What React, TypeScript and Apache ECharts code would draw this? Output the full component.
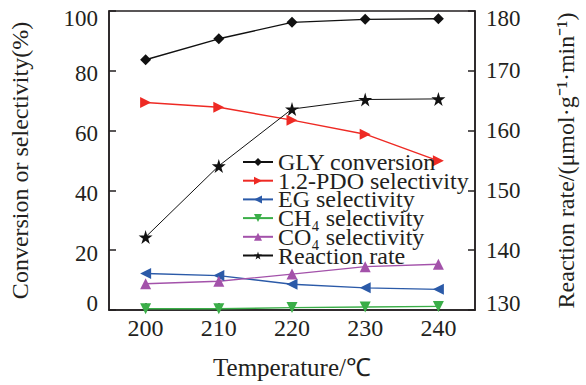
import React, { useEffect, useRef } from "react";
import * as echarts from "echarts";

const temperatures = [200, 210, 220, 230, 240];
const glyConversion = [83.7, 90.7, 96.2, 97.2, 97.4];
const pdoSelectivity = [69.4, 67.8, 63.5, 58.8, 49.9];
const egSelectivity = [12.2, 11.5, 8.6, 7.4, 6.9];
const ch4Selectivity = [0.4, 0.4, 0.8, 1.0, 1.2];
const co4Selectivity = [8.8, 9.6, 12.0, 14.5, 15.3];
const reactionRate = [142.2, 154.1, 163.6, 165.2, 165.3];

const seriesNames = [
  "GLY conversion",
  "1.2-PDO selectivity",
  "EG selectivity",
  "CH₄ selectivity",
  "CO₄ selectivity",
  "Reaction rate",
];

const FONT = "Liberation Serif";
const INK = "#231f20";
const STAR = "path://M50,0 L61,35 L98,35 L68,57 L79,91 L50,70 L21,91 L32,57 L2,35 L39,35 Z";

export default function App() {
  const ref = useRef<HTMLDivElement>(null);
  useEffect(() => {
    const chart = echarts.init(ref.current!, null, { renderer: "svg" });
    const pairs = (vals: number[]) => temperatures.map((t, i) => [t, vals[i]]);
    const mk = (
      name: string,
      vals: number[],
      color: string,
      symbol: string,
      rotate: number,
      size: number,
      yAxisIndex = 0,
      width = 1.4
    ) => ({
      name,
      type: "line",
      yAxisIndex,
      data: pairs(vals),
      symbol,
      symbolRotate: rotate,
      symbolSize: size,
      lineStyle: { color, width },
      itemStyle: { color },
      z: 3,
    });
    const txt = { fontFamily: FONT, fontSize: 23, color: INK, fontWeight: "normal" as const };
    const edgeLabel = (lo: number, hi: number, shift: number) => ({
      ...txt,
      margin: 11,
      formatter: (v: number) =>
        v === hi ? `{hi|${v}}` : v === lo ? `{lo|${v}}` : `{n|${v}}`,
      rich: {
        hi: { ...txt, padding: [14, 0, 0, 0] },
        lo: { ...txt, padding: [0, 0, 14, 0] },
        n: { ...txt, padding: [shift, 0, 0, 0] },
      },
    });
    chart.setOption({
      animation: false,
      textStyle: { fontFamily: FONT },
      grid: {
        left: 99,
        right: 97,
        top: 11,
        bottom: 75,
        show: true,
        borderColor: INK,
        borderWidth: 1.5,
      },
      legend: {
        orient: "vertical",
        left: 237,
        top: 145,
        itemWidth: 30,
        itemHeight: 10,
        itemGap: -5.3,
        data: seriesNames,
        textStyle: { fontFamily: FONT, fontSize: 24, color: INK },
      },
      xAxis: {
        type: "value",
        min: 195,
        max: 245,
        name: "Temperature/℃",
        nameLocation: "middle",
        nameGap: 45,
        nameTextStyle: { fontFamily: FONT, fontSize: 25, color: INK },
        splitLine: { show: false },
        axisLine: { show: true, lineStyle: { color: INK, width: 1.5 } },
        axisTick: {
          show: true,
          inside: true,
          length: 7,
          customValues: temperatures,
          lineStyle: { color: INK, width: 1.5 },
        },
        axisLabel: {
          customValues: temperatures,
          ...txt,
          fontSize: 24,
          margin: 6,
          formatter: (v: number) => `{n|${v}}`,
          rich: { n: { ...txt, fontSize: 24 } },
        },
      },
      yAxis: [
        {
          type: "value",
          min: 0,
          max: 100,
          interval: 20,
          name: "Conversion or selectivity(%)",
          nameLocation: "middle",
          nameGap: 77,
          nameTextStyle: { fontFamily: FONT, fontSize: 24, color: INK },
          splitLine: { show: false },
          axisLine: { show: true, lineStyle: { color: INK, width: 1.5 } },
          axisTick: { show: true, inside: true, length: 7, lineStyle: { color: INK, width: 1.5 } },
          axisLabel: edgeLabel(0, 100, 6),
        },
        {
          type: "value",
          min: 130,
          max: 180,
          interval: 10,
          position: "right",
          name: "Reaction rate/(μmol·g⁻¹·min⁻¹)",
          nameLocation: "middle",
          nameGap: 79,
          nameRotate: 90,
          nameTextStyle: { fontFamily: FONT, fontSize: 24, color: INK },
          splitLine: { show: false },
          axisLine: { show: true, lineStyle: { color: INK, width: 1.5 } },
          axisTick: { show: true, inside: true, length: 7, lineStyle: { color: INK, width: 1.5 } },
          axisLabel: edgeLabel(130, 180, 0),
        },
      ],
      series: [
        mk(seriesNames[0], glyConversion, "#111111", "diamond", 0, 11),
        mk(seriesNames[1], pdoSelectivity, "#ee2a24", "triangle", -90, 11),
        mk(seriesNames[2], egSelectivity, "#2b5aa8", "triangle", 90, 11),
        mk(seriesNames[3], ch4Selectivity, "#3aae48", "triangle", 180, 11),
        mk(seriesNames[4], co4Selectivity, "#a352aa", "triangle", 0, 11),
        mk(seriesNames[5], reactionRate, "#111111", STAR, 0, 14, 1, 1),
      ],
    });
    return () => chart.dispose();
  }, []);
  return (
    <div
      ref={ref}
      style={{ position: "fixed", left: 0, top: 0, width: 586, height: 385, background: "#fff" }}
    />
  );
}
